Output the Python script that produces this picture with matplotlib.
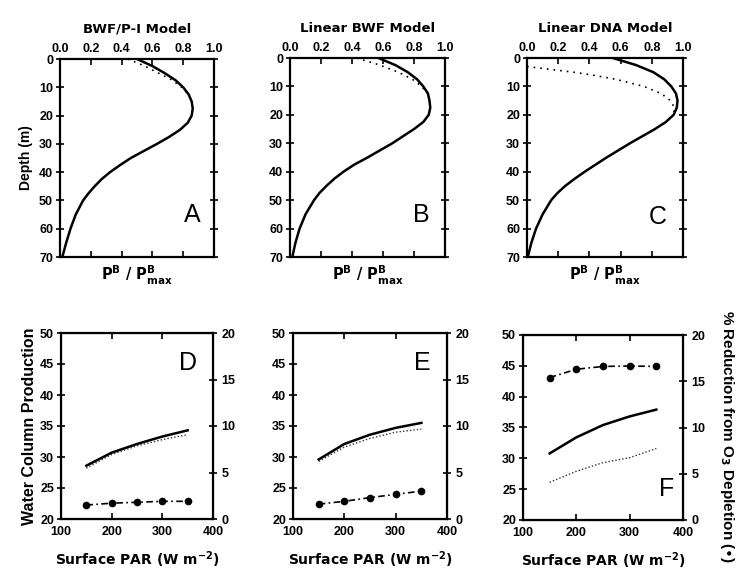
import matplotlib
matplotlib.use("Agg")
import matplotlib.pyplot as plt

plt.rcParams['font.family'] = ['Liberation Sans', 'DejaVu Sans']
plt.rcParams['font.weight'] = 'bold'

# ---- top row: depth profiles ----
titles = ["BWF/P-I Model", "Linear BWF Model", "Linear DNA Model"]
top_letters = ["A", "B", "C"]
depth = [0, 2.5, 5, 7.5, 10, 12.5, 15, 17.5, 20, 22.5, 25, 27.5, 30, 32.5, 35,
         37.5, 40, 42.5, 45, 47.5, 50, 55, 60, 65, 70]
a_solid = [0.50, 0.60, 0.68, 0.75, 0.80, 0.835, 0.855, 0.862, 0.855, 0.83, 0.78, 0.71,
           0.63, 0.545, 0.46, 0.39, 0.325, 0.27, 0.225, 0.185, 0.15, 0.102, 0.068, 0.04, 0.015]
b_solid = [0.57, 0.68, 0.76, 0.82, 0.86, 0.89, 0.90, 0.905, 0.895, 0.86, 0.80, 0.73,
           0.66, 0.58, 0.50, 0.415, 0.345, 0.285, 0.235, 0.19, 0.155, 0.10, 0.062, 0.035, 0.015]
c_solid = [0.55, 0.70, 0.81, 0.88, 0.925, 0.955, 0.965, 0.96, 0.94, 0.89, 0.82, 0.74,
           0.66, 0.585, 0.51, 0.44, 0.37, 0.305, 0.245, 0.195, 0.155, 0.10, 0.058, 0.028, 0.005]
dot_depth_ab = [0, 2.5, 5, 7.5, 10, 12.5]
a_dotted = [0.44, 0.55, 0.64, 0.73, 0.79, 0.835]
b_dotted = [0.43, 0.58, 0.70, 0.79, 0.85, 0.885]
dot_depth_c = [3, 4, 5, 6, 7.5, 10, 12.5, 15, 17.5, 20]
c_dotted = [0.0, 0.15, 0.30, 0.42, 0.57, 0.75, 0.86, 0.92, 0.945, 0.94]

# ---- bottom row: production vs surface PAR ----
bottom_letters = ["D", "E", "F"]
par = [150, 200, 250, 300, 350]
d_solid = [28.6, 30.7, 32.1, 33.3, 34.3]
d_dotted = [28.2, 30.4, 31.8, 32.8, 33.6]
d_pct = [1.5, 1.7, 1.8, 1.9, 1.9]
e_solid = [29.6, 32.1, 33.6, 34.7, 35.5]
e_dotted = [29.3, 31.6, 33.0, 34.0, 34.5]
e_pct = [1.6, 1.9, 2.3, 2.65, 3.0]
f_solid = [30.8, 33.4, 35.4, 36.8, 37.9]
f_dotted = [26.1, 27.9, 29.3, 30.1, 31.6]
f_pct = [15.4, 16.3, 16.6, 16.65, 16.6]

W, H = 736, 570
fig = plt.figure(figsize=(W / 100, H / 100), dpi=100)

def rect(l, r, t, b):
    return [l / W, 1 - b / H, (r - l) / W, (b - t) / H]

top_rects = [rect(60, 214, 59, 257), rect(290, 445, 58, 257), rect(527, 683, 58, 257)]
bot_rects = [rect(61, 213, 333, 519), rect(293, 447, 333, 519), rect(523, 683, 335, 520)]

tick_fs = 9
wide = ['DejaVu Sans']
solids = [a_solid, b_solid, c_solid]
dots = [(dot_depth_ab, a_dotted), (dot_depth_ab, b_dotted), (dot_depth_c, c_dotted)]
top_letter_pos = [(0.86, 0.21), (0.85, 0.21), (0.84, 0.20)]
for i in range(3):
    ax = fig.add_axes(top_rects[i])
    ax.plot(solids[i], depth, color='black', lw=1.8, solid_capstyle='round')
    ax.plot(dots[i][1], dots[i][0], color='black', lw=1.2, ls=(0, (1, 3)))
    ax.set_xlim(0, 1.0)
    ax.set_ylim(70, 0)
    ax.set_xticks([0.0, 0.2, 0.4, 0.6, 0.8, 1.0])
    ax.set_xticklabels(["0.0", "0.2", "0.4", "0.6", "0.8", "1.0"])
    ax.set_yticks(range(0, 71, 10))
    ax.xaxis.set_ticks_position('both')
    ax.yaxis.set_ticks_position('both')
    ax.tick_params(axis='x', labeltop=True, labelbottom=False, direction='in',
                   length=4, width=1.2, labelsize=tick_fs, pad=3)
    ax.tick_params(axis='y', direction='inout', length=6, width=1.2,
                   labelsize=tick_fs, pad=2)
    for s in ax.spines.values():
        s.set_linewidth(1.6)
    ax.set_title(titles[i], fontsize=9.5, fontweight='bold', pad=19, family=wide)
    ax.set_xlabel(r"P$^{\rm B}$ / P$^{\rm B}_{\rm max}$", fontsize=10.5, fontweight='bold',
                  labelpad=5, family=wide)
    ax.text(top_letter_pos[i][0], top_letter_pos[i][1], top_letters[i], transform=ax.transAxes,
            fontsize=18, fontweight='normal', ha='center', va='center')
    if i == 0:
        ax.set_ylabel("Depth (m)", fontsize=10, fontweight='bold', labelpad=4)

bsol = [d_solid, e_solid, f_solid]
bdot = [d_dotted, e_dotted, f_dotted]
bpct = [d_pct, e_pct, f_pct]
letter_pos = [(0.835, 0.84), (0.84, 0.84), (0.90, 0.17)]
for i in range(3):
    ax = fig.add_axes(bot_rects[i])
    ax.plot(par, bsol[i], color='black', lw=1.8)
    ax.plot(par, bdot[i], color='black', lw=1.0, ls=(0, (1, 1.5)), alpha=0.8)
    ax.set_xlim(100, 400)
    ax.set_ylim(20, 50)
    ax.set_xticks([100, 200, 300, 400])
    ax.set_yticks(range(20, 51, 5))
    ax.xaxis.set_ticks_position('both')
    ax.tick_params(axis='x', direction='in', length=4, width=1.2, labelsize=tick_fs, pad=5)
    ax.tick_params(axis='y', direction='inout', length=6, width=1.2, labelsize=tick_fs, pad=2)
    for s in ax.spines.values():
        s.set_linewidth(1.6)
    ax2 = ax.twinx()
    ax2.plot(par, bpct[i], color='black', lw=1.2, ls=(0, (4, 2, 1, 2)),
             marker='o', ms=4.5)
    ax2.set_ylim(0, 20)
    ax2.set_yticks([0, 5, 10, 15, 20])
    ax2.tick_params(axis='y', direction='inout', length=6, width=1.2, labelsize=tick_fs, pad=3)
    ax.set_xlabel(r"Surface PAR (W m$^{\mathbf{-2}}$)", fontsize=10, fontweight='bold',
                  labelpad=8, family=wide)
    ax.text(letter_pos[i][0], letter_pos[i][1], bottom_letters[i], transform=ax.transAxes,
            fontsize=18, fontweight='normal', ha='center', va='center')
    if i == 0:
        ax.set_ylabel("Water Column Production", fontsize=11.5, fontweight='bold', labelpad=2)
    if i == 2:
        ax2.set_ylabel(r"% Reduction from O$_{\mathbf{3}}$ Depletion (•)", fontsize=11,
                       fontweight='bold', rotation=-90, labelpad=14)
        ax2.yaxis.set_label_coords(1.33, 0.45)

fig.savefig("out.png", dpi=100)
